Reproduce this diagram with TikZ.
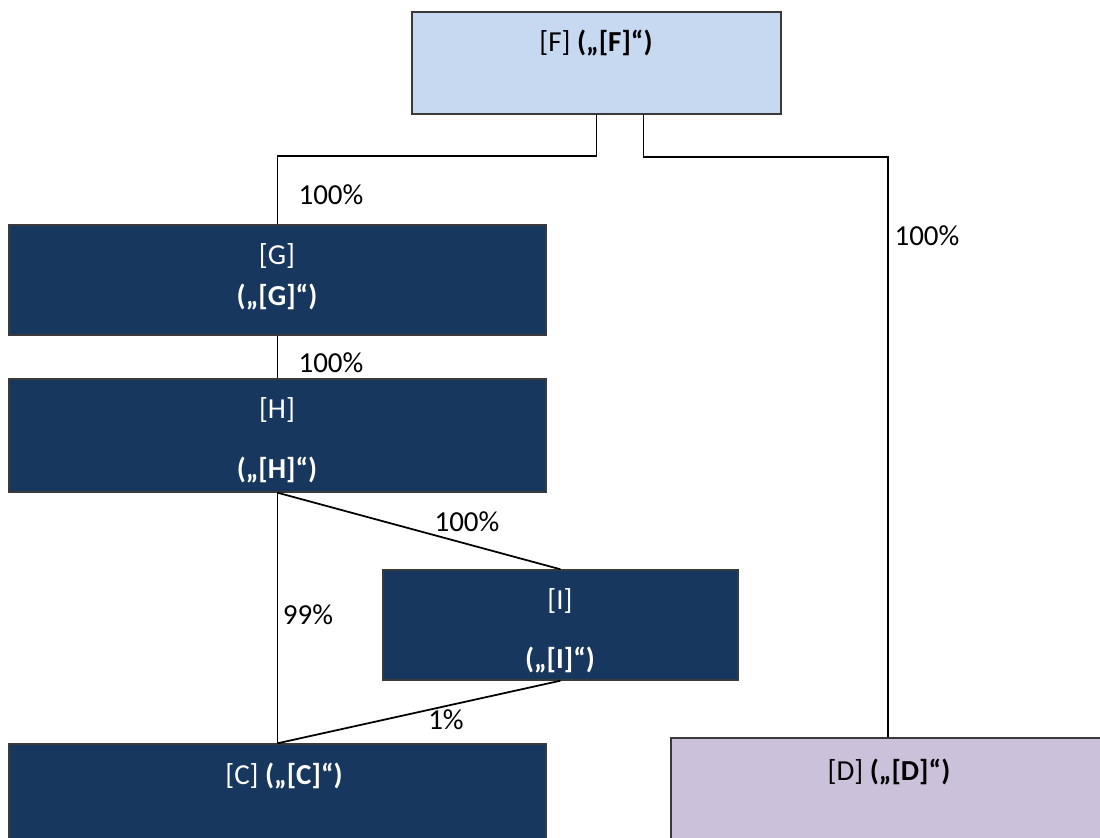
\documentclass[tikz,border=0pt]{standalone}
\usepackage{fontspec}
\setmainfont{Carlito}
\usepackage{xcolor}
\usepackage{tikz}
\definecolor{topblue}{HTML}{C6D9F1}
\definecolor{navy}{HTML}{17375E}
\definecolor{lilac}{HTML}{CCC1DA}
\definecolor{frame}{HTML}{3A3A3A}
\tikzset{
  box/.style={draw=frame, line width=0.8pt, inner sep=0pt},
  link/.style={draw=black, line width=1pt},
  pct/.style={font=\fontsize{16.5}{19}\selectfont, text=black, inner sep=0pt},
  boxtext/.style={font=\fontsize{16.5}{19}\selectfont, inner sep=0pt}
}
\begin{document}
\begin{tikzpicture}[x=0.02cm, y=-0.02cm]
  \useasboundingbox (0,0) rectangle (1100,838);
  \clip (0,0) rectangle (1100,838);

  % boxes
  \node[box, fill=topblue, minimum width=7.38cm, minimum height=2.04cm] (F) at (596.5,63) {};
  \node[box, fill=navy, minimum width=10.74cm, minimum height=2.2cm] (G) at (277.5,280) {};
  \node[box, fill=navy, minimum width=10.74cm, minimum height=2.26cm] (H) at (277.5,435.5) {};
  \node[box, fill=navy, minimum width=7.1cm, minimum height=2.2cm] (I) at (560.5,625) {};
  \node[box, fill=navy, minimum width=10.74cm, minimum height=2.72cm] (C) at (277.5,812) {};
  \node[box, fill=lilac, minimum width=8.68cm, minimum height=2.84cm] (D) at (888,809) {};

  % texts
  \node[boxtext, text=black] (Ft) at (596,43) {[F] \textbf{(„[F]“)}};
  \node[boxtext, text=white] (Gt) at (277,256) {[G]};
  \node[boxtext, text=white] (Gb) at (277,297) {\textbf{(„[G]“)}};
  \node[boxtext, text=white] (Ht) at (277,410) {[H]};
  \node[boxtext, text=white] (Hb) at (277,470) {\textbf{(„[H]“)}};
  \node[boxtext, text=white] (It) at (560,601) {[I]};
  \node[boxtext, text=white] (Ib) at (560,660) {\textbf{(„[I]“)}};
  \node[boxtext, text=white] (Ct) at (284,776) {[C] \textbf{(„[C]“)}};
  \node[boxtext, text=black] (Dt) at (889,772) {[D] \textbf{(„[D]“)}};

  % links
  \draw[link] (F.south) -- ++(0,41) -| (G.north);
  \draw[link] ([xshift=0.94cm]F.south) -- ++(0,42) -| (D.north);
  \draw[link] (G.south) -- (H.north);
  \draw[link] (H.south) -- (I.north);
  \draw[link] (H.south) -- (C.north);
  \draw[link] (I.south) -- (C.north);

  % shares
  \node[pct] (pFG) at (331,195) {100\%};
  \node[pct] (pFD) at (927,236) {100\%};
  \node[pct] (pGH) at (331,363) {100\%};
  \node[pct] (pHI) at (467,522) {100\%};
  \node[pct] (pHC) at (308,615) {99\%};
  \node[pct] (pIC) at (446,720) {1\%};
\end{tikzpicture}
\end{document}
